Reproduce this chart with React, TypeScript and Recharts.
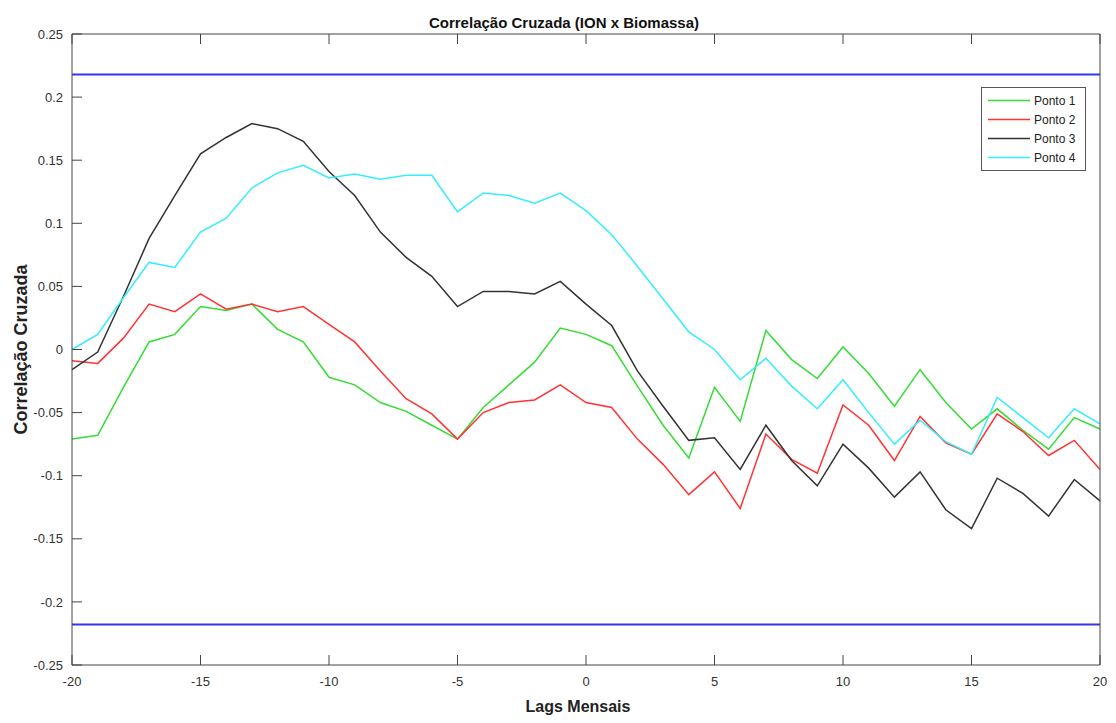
import {
  LineChart,
  Line,
  XAxis,
  YAxis,
  Legend,
  ReferenceLine,
} from "recharts";

const lags = [
  -20, -19, -18, -17, -16, -15, -14, -13, -12, -11, -10, -9, -8, -7, -6, -5, -4, -3, -2, -1,
  0, 1, 2, 3, 4, 5, 6, 7, 8, 9, 10, 11, 12, 13, 14, 15, 16, 17, 18, 19, 20,
];

const ponto1 = [
  -0.071, -0.068, -0.03, 0.006, 0.012, 0.034, 0.031, 0.036, 0.016, 0.006, -0.022, -0.028,
  -0.042, -0.049, -0.06, -0.071, -0.046, -0.028, -0.01, 0.017, 0.012, 0.003, -0.029, -0.06,
  -0.086, -0.03, -0.057, 0.015, -0.008, -0.023, 0.002, -0.019, -0.045, -0.016, -0.042,
  -0.063, -0.047, -0.064, -0.079, -0.054, -0.063,
];

const ponto2 = [
  -0.009, -0.011, 0.009, 0.036, 0.03, 0.044, 0.032, 0.036, 0.03, 0.034, 0.02, 0.006, -0.017,
  -0.039, -0.051, -0.071, -0.05, -0.042, -0.04, -0.028, -0.042, -0.046, -0.071, -0.091,
  -0.115, -0.097, -0.126, -0.067, -0.087, -0.098, -0.044, -0.06, -0.088, -0.053, -0.074,
  -0.083, -0.051, -0.065, -0.084, -0.072, -0.095,
];

const ponto3 = [
  -0.016, -0.002, 0.042, 0.088, 0.122, 0.155, 0.168, 0.179, 0.175, 0.165, 0.141, 0.122,
  0.093, 0.073, 0.058, 0.034, 0.046, 0.046, 0.044, 0.054, 0.036, 0.019, -0.017, -0.045,
  -0.072, -0.07, -0.095, -0.06, -0.088, -0.108, -0.075, -0.094, -0.117, -0.097, -0.127,
  -0.142, -0.102, -0.114, -0.132, -0.103, -0.12,
];

const ponto4 = [
  0.0, 0.012, 0.041, 0.069, 0.065, 0.093, 0.104, 0.128, 0.14, 0.146, 0.136, 0.139, 0.135,
  0.138, 0.138, 0.109, 0.124, 0.122, 0.116, 0.124, 0.11, 0.091, 0.066, 0.04, 0.014, 0.0,
  -0.024, -0.007, -0.029, -0.047, -0.024, -0.05, -0.075, -0.056, -0.073, -0.083, -0.038,
  -0.054, -0.07, -0.047, -0.059,
];

// limite de significancia (linhas azuis)
const limite = 0.218;

const xTicks = [-20, -15, -10, -5, 0, 5, 10, 15, 20];
const yTicks = [-0.25, -0.2, -0.15, -0.1, -0.05, 0, 0.05, 0.1, 0.15, 0.2, 0.25];

const data = lags.map((lag, i) => ({
  lag,
  p1: ponto1[i],
  p2: ponto2[i],
  p3: ponto3[i],
  p4: ponto4[i],
}));

const fmtY = (v: number) => String(Math.round(v * 100) / 100);

const axisColor = "#444444";
const textColor = "#333333";
const TICK = 10; // comprimento dos ticks (para dentro)

// ticks desenhados para dentro do grafico, estilo octave
function BottomTick(props: any) {
  const x = Number(props.x);
  const y = Number(props.y);
  return (
    <g>
      <line x1={x} x2={x} y1={y - 12} y2={y - 12 - TICK} stroke={axisColor} />
      <text x={x} y={y} dy="0.71em" textAnchor="middle" fontSize={13} fill={textColor}>
        {props.payload.value}
      </text>
    </g>
  );
}

function TopTick(props: any) {
  const x = Number(props.x);
  const y = Number(props.y);
  return <line x1={x} x2={x} y1={y} y2={y + TICK} stroke={axisColor} />;
}

function LeftTick(props: any) {
  const x = Number(props.x);
  const y = Number(props.y);
  return (
    <g>
      <line x1={x + 9} x2={x + 9 + TICK} y1={y} y2={y} stroke={axisColor} />
      <text x={x} y={y} dy="0.355em" textAnchor="end" fontSize={13} fill={textColor}>
        {fmtY(props.payload.value)}
      </text>
    </g>
  );
}

function RightTick(props: any) {
  const x = Number(props.x);
  const y = Number(props.y);
  return <line x1={x} x2={x - TICK} y1={y} y2={y} stroke={axisColor} />;
}

function LegendBox({ payload }: any) {
  return (
    <div style={{ border: "1px solid #555", background: "#fff", padding: "3px 0", width: 103 }}>
      {(payload || []).map((item: any) => (
        <div key={item.value} style={{ display: "flex", alignItems: "center", height: 19 }}>
          <svg width={52} height={19}>
            <line x1={6} x2={48} y1={9.5} y2={9.5} stroke={item.color} strokeWidth={1.5} />
          </svg>
          <span style={{ fontSize: 12, color: "#222" }}>{item.value}</span>
        </div>
      ))}
    </div>
  );
}

export default function App() {
  return (
    <div
      style={{
        position: "absolute",
        left: 0,
        top: 0,
        width: 1116,
        height: 723,
        background: "#fff",
        fontFamily: '"Liberation Sans", Arial, sans-serif',
      }}
    >
      <div
        style={{
          position: "absolute",
          left: 0,
          top: 14,
          width: 1128,
          textAlign: "center",
          fontSize: 15,
          lineHeight: "17px",
          fontWeight: "bold",
          color: "#111",
        }}
      >
        Correlação Cruzada (ION x Biomassa)
      </div>
      <LineChart
        width={1116}
        height={723}
        data={data}
        margin={{ top: 33, right: 10, bottom: 28, left: 10 }}
      >
        <XAxis
          xAxisId="bottom"
          dataKey="lag"
          type="number"
          domain={[-20, 20]}
          ticks={xTicks}
          height={30}
          stroke={axisColor}
          tickSize={0}
          tickMargin={12}
          tickLine={false}
          tick={<BottomTick />}
          label={{
            value: "Lags Mensais",
            position: "bottom",
            offset: 6,
            dx: -8,
            style: { fontSize: 16, fontWeight: "bold", fill: "#222" },
          }}
        />
        <XAxis
          xAxisId="top"
          orientation="top"
          dataKey="lag"
          type="number"
          domain={[-20, 20]}
          ticks={xTicks}
          height={1}
          stroke={axisColor}
          tickSize={0}
          tickMargin={0}
          tickLine={false}
          tick={<TopTick />}
        />
        <YAxis
          yAxisId="left"
          domain={[-0.25, 0.25]}
          ticks={yTicks}
          width={62}
          stroke={axisColor}
          tickSize={0}
          tickMargin={9}
          tickLine={false}
          tick={<LeftTick />}
          label={{
            value: "Correlação Cruzada",
            angle: -90,
            position: "center",
            dx: -20,
            style: { fontSize: 18, fontWeight: "bold", fill: "#222", textAnchor: "middle" },
          }}
        />
        <YAxis
          yAxisId="right"
          orientation="right"
          domain={[-0.25, 0.25]}
          ticks={yTicks}
          width={6}
          stroke={axisColor}
          tickSize={0}
          tickMargin={0}
          tickLine={false}
          tick={<RightTick />}
        />
        <ReferenceLine xAxisId="bottom" yAxisId="left" y={limite} stroke="#3535f0" strokeWidth={2} />
        <ReferenceLine xAxisId="bottom" yAxisId="left" y={-limite} stroke="#3535f0" strokeWidth={2} />
        <Line xAxisId="bottom" yAxisId="left" type="linear" dataKey="p1" name="Ponto 1" stroke="#33dd33" strokeWidth={1.5} dot={false} isAnimationActive={false} />
        <Line xAxisId="bottom" yAxisId="left" type="linear" dataKey="p2" name="Ponto 2" stroke="#ff3333" strokeWidth={1.5} dot={false} isAnimationActive={false} />
        <Line xAxisId="bottom" yAxisId="left" type="linear" dataKey="p3" name="Ponto 3" stroke="#333333" strokeWidth={1.5} dot={false} isAnimationActive={false} />
        <Line xAxisId="bottom" yAxisId="left" type="linear" dataKey="p4" name="Ponto 4" stroke="#33eeff" strokeWidth={1.5} dot={false} isAnimationActive={false} />
        <Legend
          layout="vertical"
          align="center"
          verticalAlign="middle"
          content={<LegendBox />}
          wrapperStyle={{ left: 981, top: 87, width: 105 }}
        />
      </LineChart>
    </div>
  );
}
